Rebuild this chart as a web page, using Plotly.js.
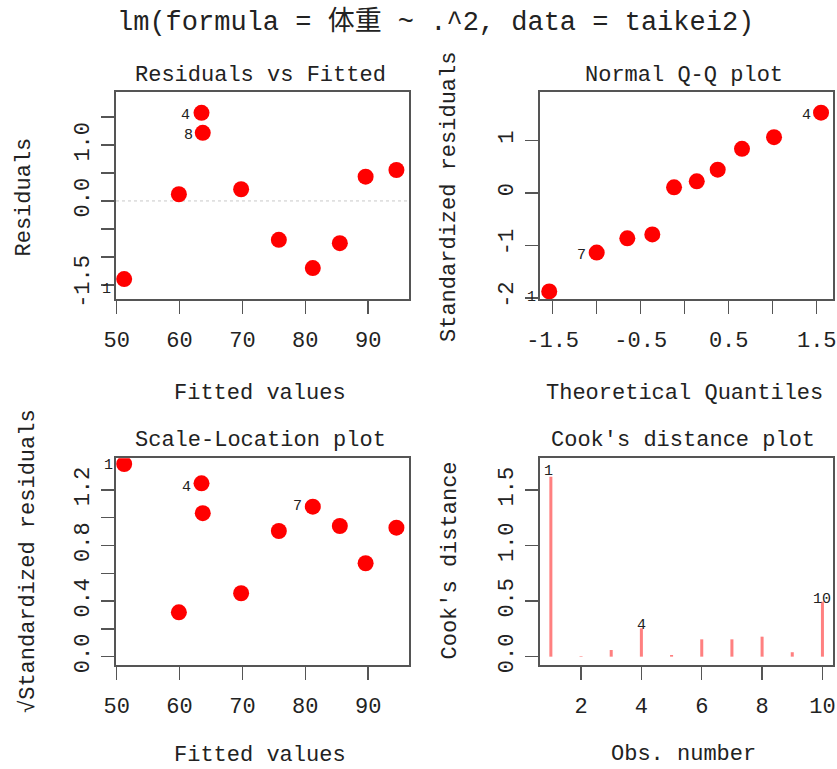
<!DOCTYPE html>
<html><head><meta charset="utf-8">
<script src="https://cdn.plot.ly/plotly-3.0.1.min.js"></script>
<style>html,body{margin:0;padding:0;background:#fff}</style>
</head><body><div id="chart" style="width:837px;height:769px"></div>
<script>
// ---- data ----
const fittedValues = [51.2, 59.9, 63.5, 63.7, 69.8, 75.8, 81.2, 85.5, 89.6, 94.5];
const residualValues = [-1.398, 0.12, 1.577, 1.22, 0.209, -0.696, -1.202, -0.755, 0.434, 0.554];
const residualLabels = ['1', '', '4', '8', '', '', '', '', '', ''];

const theoreticalQuantiles = [-1.539, -1.0, -0.652, -0.368, -0.121, 0.137, 0.375, 0.651, 1.015, 1.549];
const standardizedResiduals = [-1.875, -1.136, -0.866, -0.79, 0.106, 0.22, 0.441, 0.839, 1.061, 1.527];
const qqLabels = ['1', '7', '', '', '', '', '', '', '', '4'];

const sqrtStdResiduals = [1.386, 0.319, 1.247, 1.032, 0.456, 0.904, 1.079, 0.94, 0.672, 0.928];
const scaleLabels = ['1', '', '4', '', '', '', '7', '', '', ''];

const obsNumbers = [1, 2, 3, 4, 5, 6, 7, 8, 9, 10];
const cooksDistance = [1.62, 0.005, 0.06, 0.255, 0.015, 0.156, 0.156, 0.18, 0.04, 0.495];
const cookLabels = ['1', '', '', '4', '', '', '', '', '', '10'];

const residTicks = [-1.5, -1, -0.5, 0, 0.5, 1, 1.5];
const residTickText = ['-1.5', '', '', '0.0', '', '1.0', ''];
const fittedTicks = [50, 60, 70, 80, 90];
const fittedTickText = ['50', '60', '70', '80', '90'];
const qqXTicks = [-1.5, -1, -0.5, 0, 0.5, 1, 1.5];
const qqXTickText = ['-1.5', '', '-0.5', '', '0.5', '', '1.5'];
const qqYTicks = [-2, -1, 0, 1];
const qqYTickText = ['-2', '-1', '0', '1'];
const scaleTicks = [0, 0.2, 0.4, 0.6, 0.8, 1.0, 1.2];
const scaleTickText = ['0.0', '', '0.4', '', '0.8', '', '1.2'];
const cookYTicks = [0, 0.5, 1.0, 1.5];
const cookYTickText = ['0.0', '0.5', '1.0', '1.5'];
const cookXTicks = [2, 4, 6, 8, 10];
const cookXTickText = ['2', '4', '6', '8', '10'];

const mainTitle = 'lm(formula = 体重 ~ .^2, data = taikei2)';

// ---- layout helpers ----
const W = 837, H = 769;
const px = x => x / W;
const py = y => 1 - y / H;
const FONT = '"Liberation Mono", "Noto Sans CJK JP", monospace';
const TXT = '#222';
const LINE = '#555';

const pointMarker = {color: '#ff0000', size: 16};

const traces = [
  {x: fittedValues, y: residualValues, xaxis: 'x', yaxis: 'y', type: 'scatter', mode: 'markers', marker: pointMarker, hoverinfo: 'skip'},
  {x: theoreticalQuantiles, y: standardizedResiduals, xaxis: 'x2', yaxis: 'y2', type: 'scatter', mode: 'markers', marker: pointMarker, hoverinfo: 'skip'},
  {x: fittedValues, y: sqrtStdResiduals, xaxis: 'x3', yaxis: 'y3', type: 'scatter', mode: 'markers', marker: pointMarker, hoverinfo: 'skip'},
  {x: obsNumbers, y: cooksDistance, xaxis: 'x4', yaxis: 'y4', type: 'bar', width: 0.1, marker: {color: 'rgba(255,60,60,0.65)', line: {width: 0}}, hoverinfo: 'skip'}
];

function axis(domain, range, tickvals, ticktext, isY, anchor) {
  return {
    domain: domain, range: range, anchor: anchor,
    tickmode: 'array', tickvals: tickvals, ticktext: ticktext,
    ticks: 'outside', ticklen: 13, tickwidth: 1.5, tickcolor: LINE,
    showline: true, mirror: true, linecolor: LINE, linewidth: 2,
    showgrid: false, zeroline: false, fixedrange: true,
    tickangle: isY ? -90 : 0,
    ticklabelstandoff: isY ? 3 : 7,
    tickfont: {family: FONT, size: 22, color: TXT}
  };
}

const xL = [px(116), px(409)], xR = [px(540), px(833)];
const yT = [py(299), py(92)], yB = [py(665), py(458.3)];

const annotations = [];
function ann(text, x, y, size, angle) {
  annotations.push({text: text, xref: 'paper', yref: 'paper', x: px(x), y: py(y), xanchor: 'center', yanchor: 'middle',
    showarrow: false, textangle: angle || 0, font: {family: FONT, size: size, color: TXT}});
}
ann(mainTitle, 435, 22, 27);
ann('Residuals vs Fitted', 260, 75, 22);
ann('Normal Q-Q plot', 684, 75, 22);
ann('Scale-Location plot', 260, 440, 22);
ann("Cook's distance plot", 683, 440, 22);
ann('Fitted values', 260, 393, 22);
ann('Theoretical Quantiles', 684, 393, 22);
ann('Fitted values', 260, 755, 22);
ann('Obs. number', 683, 754, 22);
ann('Residuals', 24, 197.5, 22, -90);
ann('Standardized residuals', 450, 197, 22, -90);
ann('√Standardized residuals', 28, 561, 22, -90);
ann("Cook's distance", 450, 560.5, 22, -90);

function pointLabels(xs, ys, labels, xa, ya, shifts) {
  labels.forEach((lab, i) => {
    if (!lab) return;
    const s = shifts[lab] || [-16, -3];
    annotations.push({text: lab, xref: xa, yref: ya, x: xs[i], y: ys[i], xanchor: 'center', yanchor: 'middle',
      xshift: s[0], yshift: s[1], showarrow: false, font: {family: FONT, size: 15, color: TXT}});
  });
}
pointLabels(fittedValues, residualValues, residualLabels, 'x', 'y', {'1': [-18, -10], '4': [-16, -3], '8': [-14, -3]});
pointLabels(theoreticalQuantiles, standardizedResiduals, qqLabels, 'x2', 'y2', {'1': [-18, -6], '7': [-15, -3], '4': [-15, -3]});
pointLabels(fittedValues, sqrtStdResiduals, scaleLabels, 'x3', 'y3', {'1': [-16, -1], '4': [-15, -4], '7': [-15, 0]});
pointLabels(obsNumbers, cooksDistance, cookLabels, 'x4', 'y4', {'1': [-2, 5], '4': [0, 3], '10': [0, 2]});

const layout = {
  width: W, height: H, margin: {l: 0, r: 0, t: 0, b: 0},
  paper_bgcolor: '#fff', plot_bgcolor: '#fff', showlegend: false,
  font: {family: FONT, color: TXT},
  xaxis: axis(xL, [49.9, 96.5], fittedTicks, fittedTickText, false, 'y'),
  yaxis: axis(yT, [-1.755, 1.95], residTicks, residTickText, true, 'x'),
  xaxis2: axis(xR, [-1.644, 1.685], qqXTicks, qqXTickText, false, 'y2'),
  yaxis2: axis(yT, [-2.02, 1.92], qqYTicks, qqYTickText, true, 'x2'),
  xaxis3: axis(xL, [49.9, 96.5], fittedTicks, fittedTickText, false, 'y3'),
  yaxis3: axis(yB, [-0.06, 1.427], scaleTicks, scaleTickText, true, 'x3'),
  xaxis4: axis(xR, [0.64, 10.35], cookXTicks, cookXTickText, false, 'y4'),
  yaxis4: axis(yB, [-0.075, 1.785], cookYTicks, cookYTickText, true, 'x4'),
  shapes: [{type: 'line', xref: 'x domain', yref: 'y', x0: 0, x1: 1, y0: 0, y1: 0,
    line: {color: '#c8c8c8', width: 1, dash: 'dot'}, layer: 'below'}],
  annotations: annotations
};

Plotly.newPlot('chart', traces, layout, {staticPlot: true, displayModeBar: false});
</script>
</body></html>
